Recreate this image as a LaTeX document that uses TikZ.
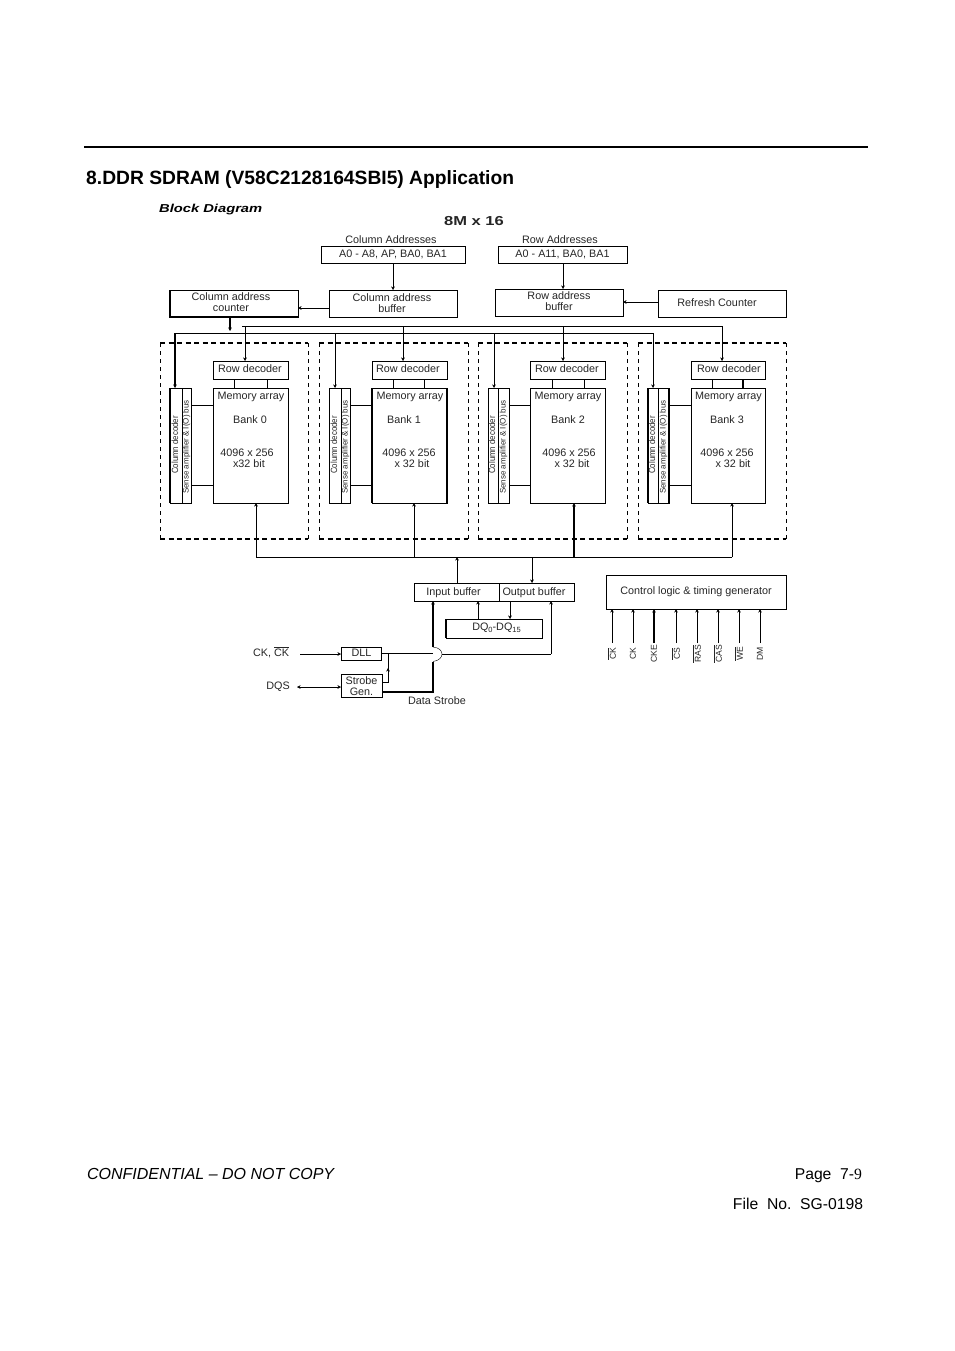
\documentclass[tikz,border=0pt]{standalone}
\usepackage{fontspec}
\setmainfont{Liberation Sans}
\newfontfamily\serifnine{Liberation Serif}
\usetikzlibrary{arrows.meta}
\tikzset{
  x=1pt,y=-1pt,
  line width=1pt,
  >={Stealth[length=3.5pt,width=3.5pt]},
  tx/.style={inner sep=0pt,outer sep=0pt,font=\fontsize{10.8}{10.8}\selectfont,align=center,text=black!85},
  rot/.style={tx,rotate=90,font=\fontsize{9}{10}\selectfont},
  rotsmall/.style={tx,rotate=90,font=\fontsize{8}{9}\selectfont},
  ctlrot/.style={tx,rotate=90,font=\fontsize{8.6}{10}\selectfont},
  heavy/.style={line width=2pt},
  edge/.style={line width=1.8pt},
  bankh/.style={dash pattern=on 5pt off 3.5pt,line width=1.3pt},
  bankv/.style={dash pattern=on 4pt off 4pt,line width=.8pt},
  foot/.style={inner sep=0pt,outer sep=0pt,font=\fontsize{15.7}{18}\selectfont},
}
% \bx{name}{x1}{y1}{x2}{y2}{options}{text}
\newcommand{\bx}[7]{%
  \pgfmathsetmacro{\bxw}{#4-#2}\pgfmathsetmacro{\bxh}{#5-#3}%
  \pgfmathsetmacro{\bxcx}{(#2+#4)/2}\pgfmathsetmacro{\bxcy}{(#3+#5)/2}%
  \node[draw,inner sep=0pt,outer sep=0pt,minimum width=\bxw pt,minimum height=\bxh pt,#6] (#1) at (\bxcx,\bxcy) {#7};}
\begin{document}
\begin{tikzpicture}
\useasboundingbox (0,0) rectangle (954,1351);
\coordinate (ruleL) at (84,147); \coordinate (ruleR) at (868,147);
\draw[line width=2pt] (ruleL) -- (ruleR);
\node[anchor=base west,inner sep=0pt,font=\fontsize{19.25}{21}\selectfont\bfseries] (title) at (86,184.5) {8.DDR SDRAM (V58C2128164SBI5) Application};
\node[anchor=base west,inner sep=0pt,font=\fontsize{11.5}{14}\selectfont\bfseries\itshape] (bd) at (159,212.5) {\scalebox{1.28}[1]{Block Diagram}};
\node[tx,font=\fontsize{13}{15}\selectfont\bfseries] (size) at (474,221) {\scalebox{1.27}[1]{8M x 16}};

\node[tx] (cal) at (391,240) {Column Addresses};
\node[tx] (ral) at (560,240) {Row Addresses};
\bx{cab}{321}{246}{465}{263}{tx}{A0 - A8, AP, BA0, BA1}
\bx{rab}{498}{246}{627}{263}{tx}{A0 - A11, BA0, BA1}
\bx{cac}{170}{290}{298}{317}{}{}
\node[tx] (cact) at (231,302.5) {Column address\\counter};
\bx{cbf}{329}{290}{457}{317}{tx}{}
\node[tx] (cbft) at (392,303) {Column address\\buffer};
\bx{rbf}{495}{289}{623}{316}{tx}{}
\node[tx] (rbft) at (559,301) {Row address\\buffer};
\bx{rfc}{658}{290}{786}{317}{}{}
\node[tx] (rfct) at (717,302.5) {Refresh Counter};
\draw[->] (393,0 |- cab.south) -- (393,0 |- cbf.north);
\draw[->] (563,0 |- rab.south) -- (563,0 |- rbf.north);
\draw[->] (cbf.west |- 0,308) -- (cac.east |- 0,308);
\draw[->] (rfc.west |- 0,302) -- (rbf.east |- 0,302);
\coordinate (cnt) at (230,331);
\draw[heavy,->] (230,0 |- cac.south) -- (cnt);

% heavy edges of the address counter
\draw[edge] (cac.north west) -- (cac.south west) -- (cac.south east);

% row bus and column bus
\coordinate (rowL) at (242,326); \coordinate (rowR) at (722,326);
\coordinate (colL) at (175,333); \coordinate (colR) at (653,333);
\draw (rowL) -- (rowR);
\draw (colL) -- (colR);

% banks
\foreach \nn/\dl/\dr/\al/\ar/\cdl/\cdm/\cdr/\rct/\rx/\cx/\ra/\rb/\bt/\bo/\bname/\clw in {
  0/160/308/213/288/170/182/191/250/245/175/234/267/250/247/Bank 0/2pt,
  1/319/468/372/447/329/341/350/408/403/335/393/424/404/409/Bank 1/1pt,
  2/478/627/530/605/488/498/509/567/563/494/552/584/568/569/Bank 2/1pt,
  3/638/786/691/765/648/658/669/729/722/653/712/743/727/727/Bank 3/1pt}{
  \coordinate (dtl\nn) at (\dl,343); \coordinate (dbr\nn) at (\dr,539);
  \draw[bankh] (dtl\nn) -- (dtl\nn -| dbr\nn);
  \draw[bankh] (dbr\nn -| dtl\nn) -- (dbr\nn);
  \draw[bankv] (dtl\nn) -- (dbr\nn -| dtl\nn);
  \draw[bankv] (dtl\nn -| dbr\nn) -- (dbr\nn);
  \bx{rd\nn}{\al}{361}{\ar}{379}{}{}
  \node[tx] (rdt\nn) at (\rct,368.5) {Row decoder};
  \bx{ma\nn}{\al}{388}{\ar}{503}{}{}
  \pgfmathsetmacro{\mct}{(\al+\ar)/2+.5}
  \node[tx] (mat\nn) at (\mct,397) {Memory array};
  \node[tx] (bkt\nn) at (\bt,420) {\bname};
  \node[tx] (szt\nn) at (\bo,452.5) {4096 x 256};
  \bx{cd\nn}{\cdl}{388}{\cdm}{503}{}{}
  \bx{sa\nn}{\cdm}{388}{\cdr}{503}{}{}
  \pgfmathsetmacro{\cdx}{(\cdl+\cdm)/2-1}
  \pgfmathsetmacro{\sax}{(\cdm+\cdr)/2}
  \node[rot] (cdt\nn) at (\cdx,445) {\scalebox{.87}[1]{Column decoder}};
  \node[rotsmall] (sat\nn) at (\sax,447) {Sense amplifier \& I(O) bus};
  \draw[->] (\rx,0 |- rowL) -- (\rx,0 |- rd\nn.north);
  \draw[->,line width=\clw] (\cx,0 |- colL) -- (\cx,0 |- cd\nn.north);
  \draw (\ra,0 |- rd\nn.south) -- (\ra,0 |- ma\nn.north);
  \draw (\rb,0 |- rd\nn.south) -- (\rb,0 |- ma\nn.north);
  \draw (sa\nn.east |- 0,405) -- (ma\nn.west |- 0,405);
  \draw (sa\nn.east |- 0,485) -- (ma\nn.west |- 0,485);
}
\node[tx] (w0) at (249,463.5) {x32 bit};
\node[tx] (w1) at (412,463.5) {x 32 bit};
\node[tx] (w2) at (572,463.5) {x 32 bit};
\node[tx] (w3) at (733,463.5) {x 32 bit};
% heavier edges as printed
\draw[edge] (cd0.north west) -- (cd0.south west);
\draw[edge] (ma1.north west) -- (ma1.south west);
\draw[edge] (ma1.north east) -- (ma1.south east);
\draw[edge] (cd3.north west) -- (cd3.south west);
\draw[edge] (sa3.north east) -- (sa3.south east);
\draw[edge] (743,0 |- rd3.south) -- (743,0 |- ma3.north);

% data bus
\coordinate (busL) at (256,557); \coordinate (busR) at (732,557);
\draw (busL) -- (busR);
\draw[->] (busL) -- (256,0 |- ma0.south);
\draw[->] (414,557) -- (414,0 |- ma1.south);
\draw[->,heavy] (574,557) -- (574,0 |- ma2.south);
\draw[->] (busR) -- (732,0 |- ma3.south);

% buffers
\bx{ibf}{414}{583}{499}{601}{}{}
\bx{obf}{499}{583}{574}{601}{}{}
\node[tx] (ibft) at (453.5,592.5) {Input buffer};
\node[tx] (obft) at (534,592.5) {Output buffer};
\bx{dqb}{446}{619}{542}{638}{}{}
\node[tx] (dqt) at (496.5,628) {DQ\raisebox{-2pt}{\fontsize{7.5}{8}\selectfont 0}-DQ\raisebox{-2pt}{\fontsize{7.5}{8}\selectfont 15}};
\draw[edge] (dqb.north west) -- (dqb.south west);
\draw[->] (457,0 |- ibf.north) -- (457,557);
\draw[->] (532,557) -- (532,0 |- obf.north);
\draw[->] (478,0 |- dqb.north) -- (478,0 |- ibf.south);
\draw[->] (510,0 |- obf.south) -- (510,0 |- dqb.north);

% clocks
\bx{dll}{341}{647}{381}{660}{}{}
\node[tx] (dllt) at (361.5,652.5) {DLL};
\bx{stb}{341}{674}{382}{697}{}{}
\node[tx] (stbt) at (361.5,686) {Strobe\\Gen.};
\coordinate (ckin) at (300,654);
\coordinate (dqsin) at (297,687);
\node[tx] (ckl) at (271,652) {CK, $\overline{\mbox{CK}}$};
\node[tx] (dqsl) at (278,687) {DQS};
\node[tx] (dsl) at (437,701) {Data Strobe};
\draw[->] (ckin) -- (ckin -| dll.west);
\draw[<->] (dqsin) -- (dqsin -| stb.west);
\draw (dll.east) -- (433,0 |- dll.east);
\draw (442,654) -- (551,654);
\draw[->] (551,654) -- (551,0 |- obf.south);
\draw[->] (388,682) -- (388,668);
\draw (388,0 |- dll.east) -- (388,682) -- (stb.east |- 0,682);
\draw[heavy] (stb.east |- 0,692) -- (433,692) -- (433,662);
\draw[heavy,->] (433,647) -- (433,0 |- ibf.south);
\draw (433,647) .. controls (445,648) and (445,660) .. (433,661.5);

% control logic
\bx{ctl}{606}{575}{786}{609}{tx}{Control logic \& timing generator}
\foreach \xx/\lb/\ov/\lwd in {
  612/CK/1/1pt, 633/CK/0/1pt, 654/CKE/0/2pt, 676/CS/1/1pt,
  697/RAS/1/1pt, 718/CAS/1/1pt, 739/WE/1/1pt, 760/DM/0/1pt}{
  \draw[->,line width=\lwd] (\xx,643) -- (\xx,0 |- ctl.south);
  \ifnum\ov=1
    \node[ctlrot] (in\xx) at (\xx,654) {$\overline{\mbox{\lb}}$};
  \else
    \node[ctlrot] (in\xx) at (\xx,654) {\lb};
  \fi
}

% footer
\node[foot,anchor=base west,font=\fontsize{16}{18}\selectfont\itshape] (cf) at (87,1179.5) {CONFIDENTIAL – DO NOT COPY};
\node[foot,anchor=base east] (pg) at (862,1179.5) {Page\ \ 7-{\serifnine 9}};
\node[foot,anchor=base east] (fl) at (863,1209.5) {File\ \ No.\ \ SG-0198};
\end{tikzpicture}
\end{document}
